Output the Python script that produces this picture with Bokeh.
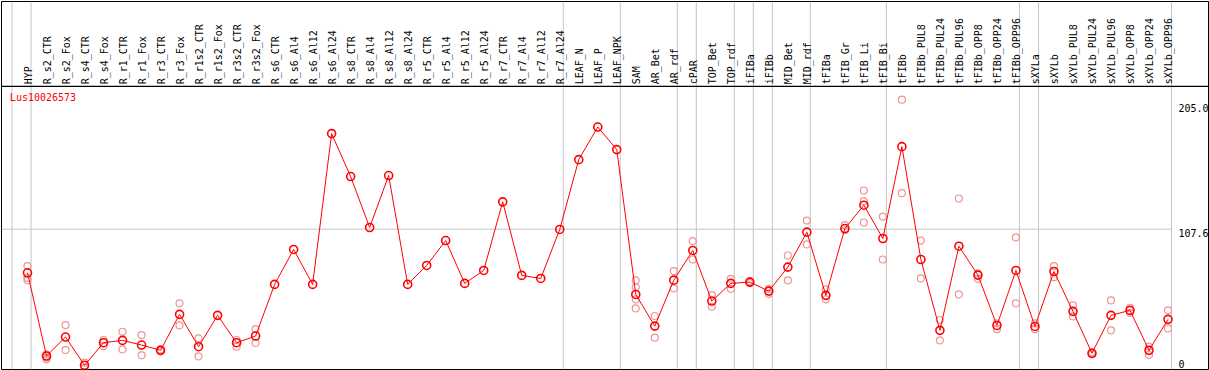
from bokeh.plotting import figure
from bokeh.models import Range1d, Span
from bokeh.embed import file_html
from bokeh.resources import INLINE
from bokeh.core.properties import value

gene = "Lus10026573"

categories = [
    "HYP", "R_s2_CTR", "R_s2_Fox", "R_s4_CTR", "R_s4_Fox", "R_r1_CTR", "R_r1_Fox",
    "R_r3_CTR", "R_r3_Fox", "R_r1s2_CTR", "R_r1s2_Fox", "R_r3s2_CTR", "R_r3s2_Fox",
    "R_s6_CTR", "R_s6_Al4", "R_s6_Al12", "R_s6_Al24", "R_s8_CTR", "R_s8_Al4",
    "R_s8_Al12", "R_s8_Al24", "R_r5_CTR", "R_r5_Al4", "R_r5_Al12", "R_r5_Al24",
    "R_r7_CTR", "R_r7_Al4", "R_r7_Al12", "R_r7_Al24", "LEAF_N", "LEAF_P", "LEAF_NPK",
    "SAM", "AR_Bet", "AR_rdf", "cPAR", "TOP_Bet", "TOP_rdf", "iFIBa", "iFIBb",
    "MID_Bet", "MID_rdf", "tFIBa", "tFIB_Gr", "tFIB_Li", "tFIB_Bi", "tFIBb",
    "tFIBb_PUL8", "tFIBb_PUL24", "tFIBb_PUL96", "tFIBb_OPP8", "tFIBb_OPP24", "tFIBb_OPP96",
    "sXYLa", "sXYLb", "sXYLb_PUL8", "sXYLb_PUL24", "sXYLb_PUL96", "sXYLb_OPP8",
    "sXYLb_OPP24", "sXYLb_OPP96",
]

means = [
    73.8, 9.3, 24.0, 2.1, 19.6, 21.4, 17.8, 13.7, 41.6, 16.5, 40.8, 19.6, 24.8,
    64.8, 91.9, 64.8, 181.7, 148.4, 108.9, 149.2, 64.8, 79.5, 98.8, 65.6, 75.6,
    128.8, 71.8, 69.4, 107.4, 161.5, 186.8, 169.3,
    57.0, 32.5, 68.1, 91.1, 51.9, 65.6, 66.6, 59.6, 78.2, 105.3, 56.3, 108.1,
    126.2, 100.4, 171.6, 84.1, 29.2, 94.4, 72.0, 33.0, 75.6,
    32.2, 74.8, 43.9, 11.4, 40.8, 44.7, 13.7, 37.7,
]

rep_cats = [
    "HYP", "HYP", "HYP",
    "R_s2_CTR", "R_s2_CTR", "R_s2_CTR",
    "R_s2_Fox", "R_s2_Fox",
    "R_s4_CTR", "R_s4_CTR",
    "R_s4_Fox", "R_s4_Fox",
    "R_r1_CTR", "R_r1_CTR",
    "R_r1_Fox", "R_r1_Fox",
    "R_r3_CTR", "R_r3_CTR",
    "R_r3_Fox", "R_r3_Fox",
    "R_r1s2_CTR", "R_r1s2_CTR",
    "R_r3s2_CTR", "R_r3s2_CTR",
    "R_r3s2_Fox", "R_r3s2_Fox",
    "SAM", "SAM", "SAM", "SAM",
    "AR_Bet", "AR_Bet",
    "AR_rdf", "AR_rdf",
    "cPAR", "cPAR",
    "TOP_Bet", "TOP_Bet",
    "TOP_rdf", "TOP_rdf",
    "iFIBa", "iFIBa",
    "iFIBb", "iFIBb",
    "MID_Bet", "MID_Bet",
    "MID_rdf", "MID_rdf",
    "tFIBa", "tFIBa",
    "tFIB_Gr", "tFIB_Gr",
    "tFIB_Li", "tFIB_Li", "tFIB_Li",
    "tFIB_Bi", "tFIB_Bi",
    "tFIBb", "tFIBb",
    "tFIBb_PUL8", "tFIBb_PUL8",
    "tFIBb_PUL24", "tFIBb_PUL24",
    "tFIBb_PUL96", "tFIBb_PUL96",
    "tFIBb_OPP8", "tFIBb_OPP8",
    "tFIBb_OPP24", "tFIBb_OPP24",
    "tFIBb_OPP96", "tFIBb_OPP96",
    "sXYLa", "sXYLa",
    "sXYLb", "sXYLb",
    "sXYLb_PUL8", "sXYLb_PUL8",
    "sXYLb_PUL24", "sXYLb_PUL24",
    "sXYLb_PUL96", "sXYLb_PUL96",
    "sXYLb_OPP8", "sXYLb_OPP8",
    "sXYLb_OPP24", "sXYLb_OPP24",
    "sXYLb_OPP96", "sXYLb_OPP96",
]

rep_vals = [
    79.0, 69.9, 68.0,
    10.6, 8.0, 6.7,
    33.3, 13.9,
    4.1, 0.2,
    21.7, 17.0,
    28.1, 14.4,
    25.5, 9.8,
    14.5, 12.9,
    50.1, 33.0,
    23.0, 9.0,
    21.7, 16.5,
    30.2, 19.4,
    67.9, 62.7, 53.2, 46.2,
    40.3, 23.5,
    75.1, 61.7,
    98.3, 84.1,
    56.5, 47.5,
    69.1, 61.4,
    67.4, 65.8,
    61.4, 57.5,
    87.2, 67.9,
    114.3, 95.8,
    60.9, 53.2,
    110.7, 106.8,
    137.6, 129.3, 112.8,
    117.4, 84.1,
    208.0, 135.5,
    98.8, 69.4,
    37.2, 21.4,
    131.4, 57.0,
    73.3, 69.1,
    34.6, 30.0,
    101.2, 50.1,
    34.6, 30.0,
    79.0, 70.4,
    48.5, 40.0,
    12.2, 10.6,
    52.4, 29.2,
    46.7, 42.8,
    16.5, 10.1,
    44.7, 30.7,
]

# group separators are drawn after these columns ("" = before the first one)
separators_after = ["", "HYP", "R_r7_Al24", "LEAF_NPK", "AR_rdf", "cPAR", "TOP_rdf",
                    "iFIBa", "iFIBb", "MID_rdf", "tFIB_Bi", "tFIBb_OPP96", "sXYLa",
                    "sXYLb_OPP96"]

y_ticks = [0, 107.6, 205.0]
y_tick_labels = ["0", "107.6", "205.0"]

# ---------------------------------------------------------------------------
n = len(categories)
xpos = {c: i for i, c in enumerate(categories)}
xs = list(range(n))
rep_x = [xpos[c] for c in rep_cats]

X0, X1 = -1.368, 62.13          # horizontal extent of the frame (column units)
Y0, Y1 = -1.16, 284.1           # vertical extent of the frame (value units)
HEADER_Y = 218.3                # header / plot separator
SEP_DX = 0.184                  # separator offset right of a column

FONT = value("DejaVu Sans Mono")
GRID = "#c4c4c4"

p = figure(width=1209, height=370, x_range=Range1d(X0, X1), y_range=Range1d(Y0, Y1),
           output_backend="svg", toolbar_location=None,
           x_axis_type=None, y_axis_type=None,
           min_border_left=1, min_border_right=1, min_border_top=1, min_border_bottom=1)
p.grid.visible = False
p.outline_line_color = "black"
p.outline_line_width = 1
p.background_fill_color = "white"
p.border_fill_color = "white"

# vertical separators
for c in separators_after:
    loc = (xpos[c] if c else -1) + SEP_DX
    p.add_layout(Span(location=loc, dimension="height", line_color=GRID,
                      line_width=1, level="underlay"))

# horizontal grid at the middle tick (stops at the last separator)
p.segment(x0=[X0], x1=[n - 1 + SEP_DX], y0=[y_ticks[1]], y1=[y_ticks[1]],
          line_color=GRID, line_width=1, level="underlay")

# header separator
p.add_layout(Span(location=HEADER_Y, dimension="width", line_color="black", line_width=1.2))

# header labels
p.text(x=[i + 0.05 for i in xs], y=[HEADER_Y + 1.6] * n, text=categories,
       angle=1.5707963, text_align="left", text_baseline="alphabetic",
       text_font=FONT, text_font_size="10px", text_color="black")

# gene name
p.text(x=[X0 + 0.44], y=[213.8], text=[gene], text_align="left", text_baseline="top",
       text_font=FONT, text_font_size="10px", text_color="red")

# y tick labels on the right
tx = n - 1 + 0.55
p.text(x=[tx, tx], y=y_ticks[1:], text=y_tick_labels[1:], text_align="left",
       text_baseline="top", text_font=FONT, text_font_size="10px", text_color="black")
p.text(x=[tx], y=y_ticks[:1], text=y_tick_labels[:1], text_align="left",
       text_baseline="bottom", text_font=FONT, text_font_size="10px", text_color="black")

# replicates
p.scatter(x=rep_x, y=rep_vals, marker="circle", size=7, fill_color=None,
          line_color="#ee9494", line_width=1.2)

# mean line + markers
p.line(x=xs, y=means, line_color="red", line_width=1)
p.scatter(x=xs, y=means, marker="circle", size=8, fill_color=None,
          line_color="red", line_width=1.6)

open("out.html", "w").write(file_html(p, INLINE))
